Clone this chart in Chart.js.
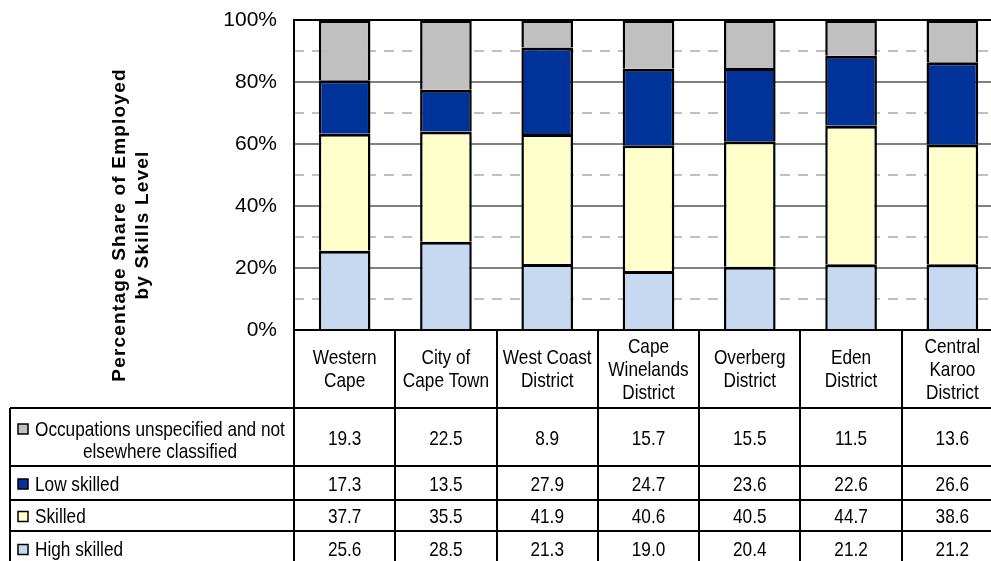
<!DOCTYPE html>
<html>
<head>
<meta charset="utf-8">
<script src="https://cdn.jsdelivr.net/npm/chart.js@4"></script>
<style>
  html, body { margin: 0; padding: 0; background: #fff; overflow: hidden; }
  canvas { display: block; }
</style>
</head>
<body>
<canvas id="skillsChart" width="1010" height="561"></canvas>
<script>
// categories (header lines as shown in the data table)
const categories = ['Western Cape', 'City of Cape Town', 'West Coast District', 'Cape Winelands District',
                    'Overberg District', 'Eden District', 'Central Karoo District'];
const headerLines = [['Western', 'Cape'], ['City of', 'Cape Town'], ['West Coast', 'District'],
                     ['Cape', 'Winelands', 'District'], ['Overberg', 'District'], ['Eden', 'District'],
                     ['Central', 'Karoo', 'District']];

// series values (%)
const unspecified = [19.3, 22.5, 8.9, 15.7, 15.5, 11.5, 13.6];
const lowSkilled = [17.3, 13.5, 27.9, 24.7, 23.6, 22.6, 26.6];
const skilled = [37.7, 35.5, 41.9, 40.6, 40.5, 44.7, 38.6];
const highSkilled = [25.6, 28.5, 21.3, 19.0, 20.4, 21.2, 21.2];

const yTicks = [0, 20, 40, 60, 80, 100];

const series = [
    { label: 'High skilled', data: highSkilled, color: '#C6D9F1' },
    { label: 'Skilled', data: skilled, color: '#FFFFCC' },
    { label: 'Low skilled', data: lowSkilled, color: '#003399' },
    { label: 'Occupations unspecified and not elsewhere classified', data: unspecified, color: '#C0C0C0' }
];

const cv = document.getElementById('skillsChart');
const c2 = cv.getContext('2d');

// is the narrow font there? otherwise squeeze Liberation Sans
function hasFont(name) {
    c2.font = '40px monospace';
    const a = c2.measureText('abcdefghijklmnopWM').width;
    c2.font = '40px "' + name + '", monospace';
    return c2.measureText('abcdefghijklmnopWM').width !== a;
}
const narrowOK = hasFont('Liberation Sans Narrow');
const narrowFont = narrowOK ? '21px "Liberation Sans Narrow"' : '21px "Liberation Sans"';
const squeeze = narrowOK ? 1 : 0.82;

function narrowText(ctx, str, x, y, align) {
    ctx.save();
    ctx.font = narrowFont;
    ctx.textAlign = align || 'center';
    ctx.textBaseline = 'middle';
    ctx.fillStyle = '#000';
    ctx.translate(x, y);
    ctx.scale(squeeze, 1);
    ctx.fillText(str, 0, 0);
    ctx.restore();
}

const tablePlugin = {
    id: 'tablePlugin',
    afterDraw(chart) {
        const { ctx, chartArea } = chart;
        const x = chart.scales.x;
        const n = categories.length;
        const colW = (x.right - x.left) / n;
        const rowY = [chartArea.bottom, 408, 466, 500, 531, 566];
        const tableLeft = 10;

        ctx.save();
        ctx.strokeStyle = '#000';
        ctx.lineWidth = 2;

        // plot border
        ctx.strokeRect(chartArea.left, chartArea.top, chartArea.right - chartArea.left, chartArea.bottom - chartArea.top);

        // column lines
        for (let i = 0; i <= n; i++) {
            const bx = Math.round(x.getPixelForValue(i) - colW / 2);
            ctx.beginPath();
            ctx.moveTo(bx, rowY[0]);
            ctx.lineTo(bx, rowY[5]);
            ctx.stroke();
        }
        ctx.beginPath();
        ctx.moveTo(tableLeft, rowY[1]);
        ctx.lineTo(tableLeft, rowY[5]);
        ctx.stroke();

        // row lines
        for (let r = 1; r <= 4; r++) {
            ctx.beginPath();
            ctx.moveTo(tableLeft, rowY[r]);
            ctx.lineTo(x.right + 10, rowY[r]);
            ctx.stroke();
        }
        ctx.restore();

        // header
        headerLines.forEach((lines, i) => {
            const cx = x.getPixelForValue(i);
            const mid = (rowY[0] + rowY[1]) / 2 + 1;
            lines.forEach((t, k) => {
                narrowText(ctx, t, cx, mid + (k - (lines.length - 1) / 2) * 23);
            });
        });

        // rows: top series first
        const rows = series.slice().reverse();
        rows.forEach((s, r) => {
            const y0 = rowY[r + 1], y1 = rowY[r + 2];
            const mid = (y0 + y1) / 2 + 2;
            s.data.forEach((v, i) => {
                narrowText(ctx, v.toFixed(1), x.getPixelForValue(i), mid);
            });

            // legend key
            let textY = mid;
            if (r === 0) textY = mid - 9;
            ctx.save();
            ctx.fillStyle = s.color;
            ctx.strokeStyle = '#000';
            ctx.lineWidth = 1.5;
            ctx.fillRect(18, textY - 6, 10, 10);
            ctx.strokeRect(18, textY - 6, 10, 10);
            ctx.restore();

            if (r === 0) {
                narrowText(ctx, 'Occupations unspecified and not', 35, textY, 'left');
                narrowText(ctx, 'elsewhere classified', 160, textY + 22, 'center');
            } else {
                narrowText(ctx, s.label, 35, textY, 'left');
            }
        });

        // y axis title
        ctx.save();
        ctx.translate(120, 225);
        ctx.rotate(-Math.PI / 2);
        ctx.font = 'bold 19px "Liberation Sans"';
        ctx.letterSpacing = '1.2px';
        ctx.textAlign = 'center';
        ctx.textBaseline = 'middle';
        ctx.fillStyle = '#000';
        ctx.fillText('Percentage Share of Employed', 0, 0);
        ctx.fillText('by Skills Level', 0, 23);
        ctx.restore();
    }
};

new Chart(c2, {
    type: 'bar',
    data: {
        labels: categories,
        datasets: series.map(s => ({
            label: s.label,
            data: s.data,
            backgroundColor: s.color,
            borderColor: '#000',
            borderWidth: { top: 3, left: 2.5, right: 2.5, bottom: 0 },
            borderSkipped: false,
            barPercentage: 0.51,
            categoryPercentage: 1
        }))
    },
    options: {
        responsive: false,
        animation: false,
        devicePixelRatio: 1,
        layout: { padding: { left: 224, top: 20, right: 7, bottom: 231 } },
        plugins: {
            legend: { display: false },
            tooltip: { enabled: false }
        },
        scales: {
            x: { stacked: true, display: false },
            y: {
                stacked: true,
                min: 0,
                max: 100,
                afterFit: s => { s.width = 70; },
                ticks: {
                    stepSize: 10,
                    padding: 0,
                    color: '#000',
                    font: { family: 'Liberation Sans', size: 21 },
                    callback: v => yTicks.includes(v) ? v + '%' : ''
                },
                grid: {
                    drawTicks: true,
                    tickLength: 17,
                    tickColor: 'rgba(0,0,0,0)',
                    lineWidth: 2,
                    color: c => yTicks.includes(c.tick.value) ? '#808080' : '#C0C0C0'
                },
                border: {
                    display: false,
                    dash: c => (c.tick && !yTicks.includes(c.tick.value)) ? [10, 8] : []
                }
            }
        }
    },
    plugins: [tablePlugin]
});
</script>
</body>
</html>
